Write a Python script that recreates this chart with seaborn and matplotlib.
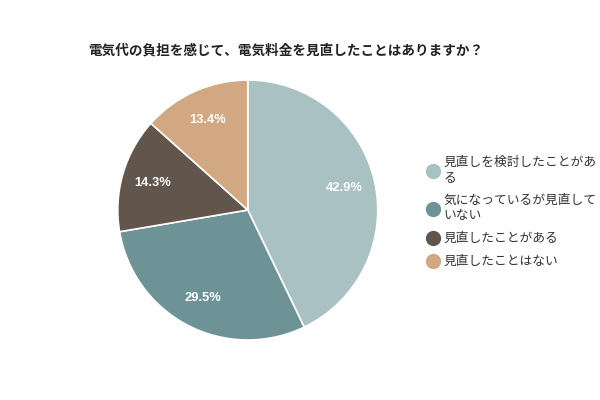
import matplotlib
matplotlib.use("Agg")
import matplotlib.pyplot as plt
import seaborn as sns
from matplotlib.lines import Line2D

# data
labels = ["見直しを検討したことがある", "気になっているが見直していない", "見直したことがある", "見直したことはない"]
legend_labels = ["見直しを検討したことがあ\nる", "気になっているが見直して\nいない", "見直したことがある", "見直したことはない"]
values = [42.9, 29.5, 14.3, 13.4]
colors = ["#a9c1c2", "#6e9397", "#62564c", "#d1a882"]

sns.set_theme(style="white")
plt.rcParams["font.family"] = ["Noto Sans CJK JP", "DejaVu Sans"]

fig = plt.figure(figsize=(6, 4), dpi=100)
ax = fig.add_axes([0.413 - 0.2167, 0.475 - 0.325, 0.4333, 0.65])

wedges, texts, autotexts = ax.pie(
    values, colors=colors, startangle=90, counterclock=False,
    autopct="%1.1f%%", pctdistance=0.76,
    wedgeprops=dict(edgecolor="white", linewidth=1.2),
    textprops=dict(color="white", fontsize=9.3, fontweight="bold", family="Liberation Sans"),
)
ax.set_aspect("equal")
ax.set_xlim(-1.0, 1.0)
ax.set_ylim(-1.0, 1.0)

fig.text(0.147, 0.875, "電気代の負担を感じて、電気料金を見直したことはありますか？",
         fontsize=9.8, fontweight="bold", ha="left", va="center", color="#222222")

handles = [Line2D([], [], marker="o", linestyle="", markersize=10, markerfacecolor=c,
                  markeredgecolor=c) for c in colors]
fig.legend(handles, legend_labels, loc="upper left", bbox_to_anchor=(0.703, 0.622),
           frameon=False, fontsize=9.2, handletextpad=0.3, labelspacing=0.78,
           handlelength=1.0, borderaxespad=0, labelcolor="#333333")

fig.savefig("out.png", dpi=100, facecolor="white")
